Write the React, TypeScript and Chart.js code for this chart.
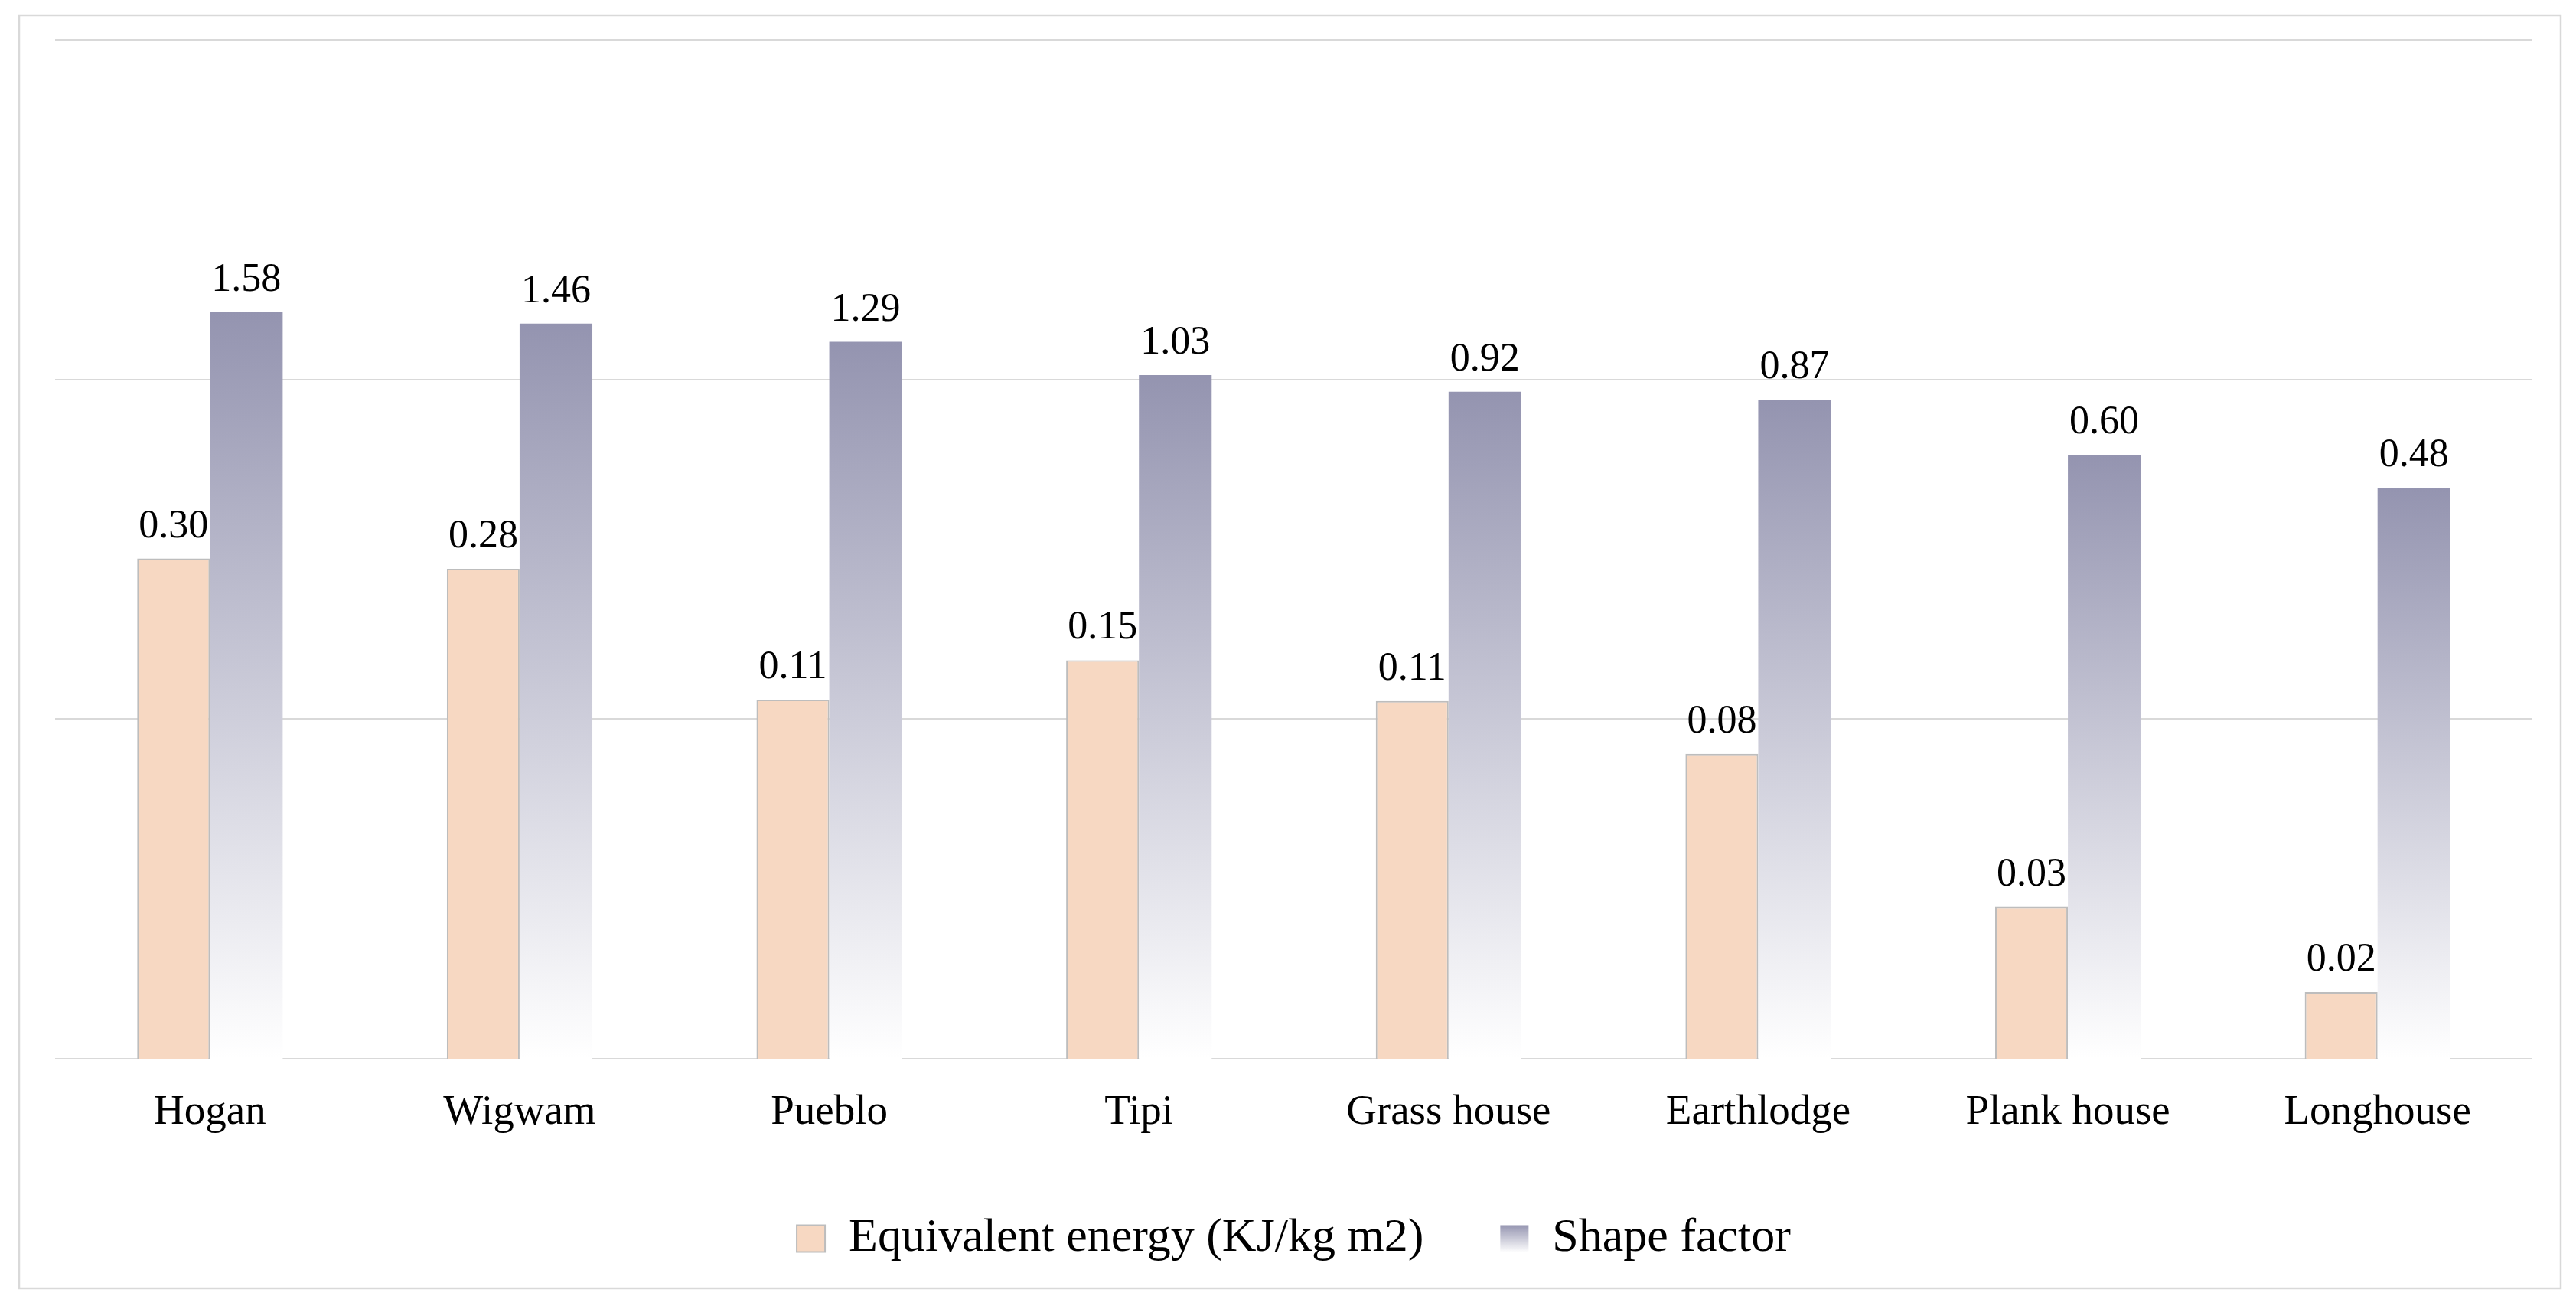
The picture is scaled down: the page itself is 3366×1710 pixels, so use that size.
import React, { useEffect, useRef } from 'react';
import { Chart, registerables } from 'chart.js';

Chart.register(...registerables);

const categories = ['Hogan', 'Wigwam', 'Pueblo', 'Tipi', 'Grass house', 'Earthlodge', 'Plank house', 'Longhouse'];
const energyValues = [0.297, 0.277, 0.114, 0.149, 0.113, 0.079, 0.028, 0.0157];
const shapeValues = [1.58, 1.46, 1.29, 1.03, 0.92, 0.87, 0.6, 0.48];
const seriesNames = ['Equivalent energy (KJ/kg m2)', 'Shape factor'];
const yGridValues = [0.01, 0.1, 1, 10];

const FONT = '"Liberation Serif", "Times New Roman", serif';
const ORANGE = '#F7D8C2';
const ORANGE_BORDER = '#BDBDBD';
const SHAPE_TOP = 'rgb(148,148,176)';
const SHAPE_BOTTOM = 'rgb(255,255,255)';

const shapeFill = (c: any) => {
  const chart = c.chart;
  if (!chart.chartArea || c.type !== 'data') return SHAPE_TOP;
  const ys = chart.scales.y;
  const top = ys.getPixelForValue(c.raw);
  const bottom = ys.getPixelForValue(ys.min);
  const g = chart.ctx.createLinearGradient(0, top, 0, bottom);
  g.addColorStop(0, SHAPE_TOP);
  g.addColorStop(1, SHAPE_BOTTOM);
  return g;
};

const framePlugin = {
  id: 'frame',
  beforeDraw(chart: any) {
    const { ctx } = chart;
    ctx.save();
    ctx.fillStyle = '#ffffff';
    ctx.fillRect(0, 0, chart.width, chart.height);
    ctx.strokeStyle = '#D9D9D9';
    ctx.lineWidth = 2.5;
    ctx.strokeRect(25, 20, chart.width - 45, chart.height - 47);
    ctx.restore();
  },
};

const labelPlugin = {
  id: 'barValueLabels',
  afterDraw(chart: any) {
    const { ctx } = chart;
    ctx.save();
    ctx.font = `52px ${FONT}`;
    ctx.fillStyle = '#000';
    ctx.textAlign = 'center';
    ctx.textBaseline = 'alphabetic';
    chart.data.datasets.forEach((ds: any, di: number) => {
      const meta = chart.getDatasetMeta(di);
      meta.data.forEach((bar: any, i: number) => {
        ctx.fillText(Number(ds.data[i]).toFixed(2), bar.x, bar.y - 28);
      });
    });
    ctx.restore();
  },
};

export default function App() {
  const ref = useRef<HTMLCanvasElement | null>(null);

  useEffect(() => {
    document.body.style.margin = '0';
    document.body.style.overflow = 'hidden';
    if (!ref.current) return;
    Chart.defaults.font.family = FONT;
    const chart = new Chart(ref.current, {
      type: 'bar',
      data: {
        labels: categories,
        datasets: [
          {
            label: seriesNames[0],
            data: energyValues,
            backgroundColor: ORANGE,
            borderColor: ORANGE_BORDER,
            borderWidth: 2,
            barPercentage: 1,
            categoryPercentage: 0.47,
          },
          {
            label: seriesNames[1],
            data: shapeValues,
            backgroundColor: shapeFill as any,
            borderWidth: 0,
            barPercentage: 1,
            categoryPercentage: 0.47,
          },
        ],
      },
      options: {
        animation: false,
        responsive: false,
        layout: { padding: { left: 72, right: 57, top: 52, bottom: 51 } },
        scales: {
          x: {
            grid: { display: false, drawTicks: false },
            border: { display: false },
            ticks: {
              font: { family: FONT, size: 55, lineHeight: 1 },
              color: '#000',
              padding: 43.5,
              maxRotation: 0,
              autoSkip: false,
            },
            afterFit: (s: any) => {
              s.height = 104;
            },
          },
          y: {
            type: 'logarithmic',
            min: 0.01,
            max: 10,
            z: 1,
            afterBuildTicks: (s: any) => {
              s.ticks = yGridValues.map((v) => ({ value: v }));
            },
            ticks: { display: false },
            grid: { color: 'rgba(0,0,0,0.15)', lineWidth: 2, drawTicks: false },
            border: { display: false },
          },
        },
        plugins: {
          tooltip: { enabled: false },
          legend: {
            position: 'bottom',
            labels: {
              font: { family: FONT, size: 62 },
              color: '#000',
              boxWidth: 37,
              boxHeight: 35,
              padding: 100,
              generateLabels: (ch: any) => {
                const items = (Chart.defaults.plugins.legend.labels as any).generateLabels(ch);
                items[0].fillStyle = ORANGE;
                items[0].strokeStyle = ORANGE_BORDER;
                items[0].lineWidth = 2;
                const g = ch.ctx.createLinearGradient(0, 1600, 0, 1636);
                g.addColorStop(0, SHAPE_TOP);
                g.addColorStop(1, SHAPE_BOTTOM);
                items[1].fillStyle = g;
                items[1].lineWidth = 0;
                return items;
              },
            },
          },
        },
      },
      plugins: [framePlugin, labelPlugin],
    } as any);
    return () => chart.destroy();
  }, []);

  return (
    <canvas
      ref={ref}
      width={3366}
      height={1710}
      style={{ display: 'block', width: '3366px', height: '1710px' }}
    />
  );
}
